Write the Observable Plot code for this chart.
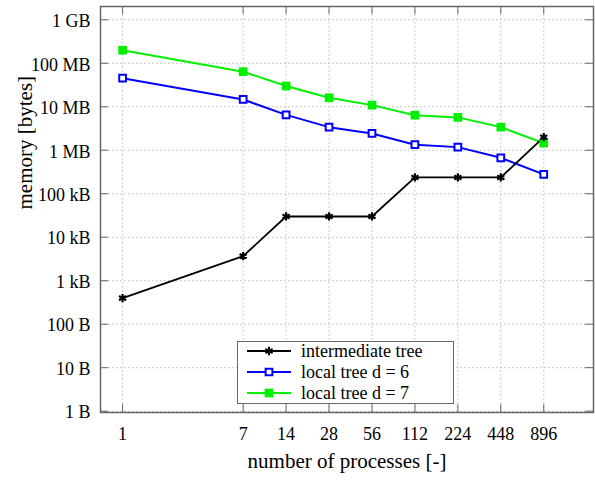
<!DOCTYPE html>
<html><head><meta charset="utf-8">
<script src="https://cdn.jsdelivr.net/npm/d3@7"></script>
<script src="https://cdn.jsdelivr.net/npm/@observablehq/plot@0.6"></script>
<style>
body{margin:0;background:#fff;}
#wrap{position:relative;width:595px;height:480px;font-family:"Liberation Serif","Times New Roman",Times,"DejaVu Serif",serif;}
#wrap svg text{font-family:"Liberation Serif","Times New Roman",Times,"DejaVu Serif",serif;}
#legend{position:absolute;left:237px;top:341px;}
</style></head><body><div id="wrap"></div>
<script>
const processes = [1, 7, 14, 28, 56, 112, 224, 448, 896];
const intermediateTree = [398, 3680, 30000, 30000, 30000, 237000, 237000, 237000, 2000000];
const localTreeD6 = [45500000, 14700000, 6500000, 3400000, 2430000, 1340000, 1180000, 670000, 278000];
const localTreeD7 = [200000000, 64000000, 30000000, 16100000, 10900000, 6400000, 5700000, 3400000, 1460000];
const seriesNames = ["intermediate tree", "local tree d = 6", "local tree d = 7"];
const seriesColors = ["#000000", "#0000ff", "#00f000"];
const xTicks = processes;
const yTicks = [1, 10, 100, 1e3, 1e4, 1e5, 1e6, 1e7, 1e8, 1e9];
const yTickLabels = ["1 B", "10 B", "100 B", "1 kB", "10 kB", "100 kB", "1 MB", "10 MB", "100 MB", "1 GB"];
const xLabel = "number of processes [-]";
const yLabel = "memory [bytes]";

const FONT = '"Liberation Serif", "Times New Roman", Times, "DejaVu Serif", serif';
const W = 595, H = 480, mL = 100, mR = 2, mT = 6, mB = 68;
const frameW = W - mL - mR, frameH = H - mT - mB, tick = 8;
const gray = "#666";

const toRows = (vals, name) => processes.map((p, i) => ({p, v: vals[i], name}));
const black = toRows(intermediateTree, seriesNames[0]);
const blue = toRows(localTreeD6, seriesNames[1]);
const green = toRows(localTreeD7, seriesNames[2]);

const gridStyle = {stroke: "#bbb", strokeOpacity: 1, strokeDasharray: "1.5,2.5", strokeWidth: 1};

const plot = Plot.plot({
  width: W, height: H,
  marginLeft: mL, marginRight: mR, marginTop: mT, marginBottom: mB,
  style: {fontFamily: FONT, fontSize: "18px", background: "#fff", color: "#000"},
  x: {type: "log", base: 2, domain: [0.7, 2000]},
  y: {type: "log", domain: [0.933, 2.02e9]},
  marks: [
    Plot.gridX(xTicks, gridStyle),
    Plot.gridY(yTicks, gridStyle),
    Plot.tickX(xTicks, {x: d => d, stroke: gray, insetTop: frameH - tick}),
    Plot.tickX(xTicks, {x: d => d, stroke: gray, insetBottom: frameH - tick}),
    Plot.tickY(yTicks, {y: d => d, stroke: gray, insetRight: frameW - tick}),
    Plot.tickY(yTicks, {y: d => d, stroke: gray, insetLeft: frameW - tick}),
    Plot.frame({stroke: gray, strokeWidth: 1.5}),
    Plot.axisX(xTicks, {tickSize: 0, tickPadding: 15, tickFormat: d => String(d), label: null}),
    Plot.axisY(yTicks, {tickSize: 0, tickPadding: 10, dy: 1.5, tickFormat: d => yTickLabels[yTicks.indexOf(d)], label: null}),
    Plot.line(green, {x: "p", y: "v", stroke: seriesColors[2], strokeWidth: 2}),
    Plot.line(blue, {x: "p", y: "v", stroke: seriesColors[1], strokeWidth: 2}),
    Plot.line(black, {x: "p", y: "v", stroke: seriesColors[0], strokeWidth: 1.8}),
    Plot.dot(green, {x: "p", y: "v", symbol: "square", fill: seriesColors[2], r: 4.9}),
    Plot.dot(blue, {x: "p", y: "v", symbol: "square", fill: "#fff", stroke: seriesColors[1], strokeWidth: 2, r: 3.8}),
    Plot.dot(black, {x: "p", y: "v", symbol: "asterisk", stroke: seriesColors[0], strokeWidth: 2.2, r: 3.9}),
    Plot.text([yLabel], {text: d => d, frameAnchor: "left", dx: -68.5, rotate: -90, lineAnchor: "bottom", fontSize: 21}),
    Plot.text([xLabel], {text: d => d, frameAnchor: "bottom", dy: 55, lineAnchor: "bottom", fontSize: 21})
  ]
});
const wrap = document.getElementById("wrap");
wrap.appendChild(plot);

// legend
const lw = 217, lh = 63;
const lsvg = d3.create("svg").attr("id", "legend").attr("width", lw + 1).attr("height", lh + 1);
lsvg.append("rect").attr("x", 0.5).attr("y", 0.5).attr("width", lw - 1).attr("height", lh - 1)
  .attr("fill", "#fff").attr("stroke", gray).attr("stroke-width", 1);
const symSpec = [
  {type: d3.symbolAsterisk, r: 3.9, fill: "none", stroke: seriesColors[0]},
  {type: d3.symbolSquare, r: 3.8, fill: "#fff", stroke: seriesColors[1]},
  {type: d3.symbolSquare, r: 4.9, fill: seriesColors[2], stroke: "none"}
];
seriesNames.forEach((name, i) => {
  const cy = 10 + 21 * i;
  const g = lsvg.append("g");
  g.append("line").attr("x1", 10).attr("x2", 54).attr("y1", cy).attr("y2", cy)
    .attr("stroke", seriesColors[i]).attr("stroke-width", 2);
  const s = symSpec[i];
  g.append("path").attr("transform", `translate(32,${cy})`)
    .attr("d", d3.symbol(s.type, Math.PI * s.r * s.r)())
    .attr("fill", s.fill).attr("stroke", s.stroke).attr("stroke-width", 2);
  g.append("text").attr("x", 64).attr("y", cy + 6)
    .style("font-family", FONT).attr("font-size", 18).attr("fill", "#000")
    .text(name);
});
wrap.appendChild(lsvg.node());
</script></body></html>
